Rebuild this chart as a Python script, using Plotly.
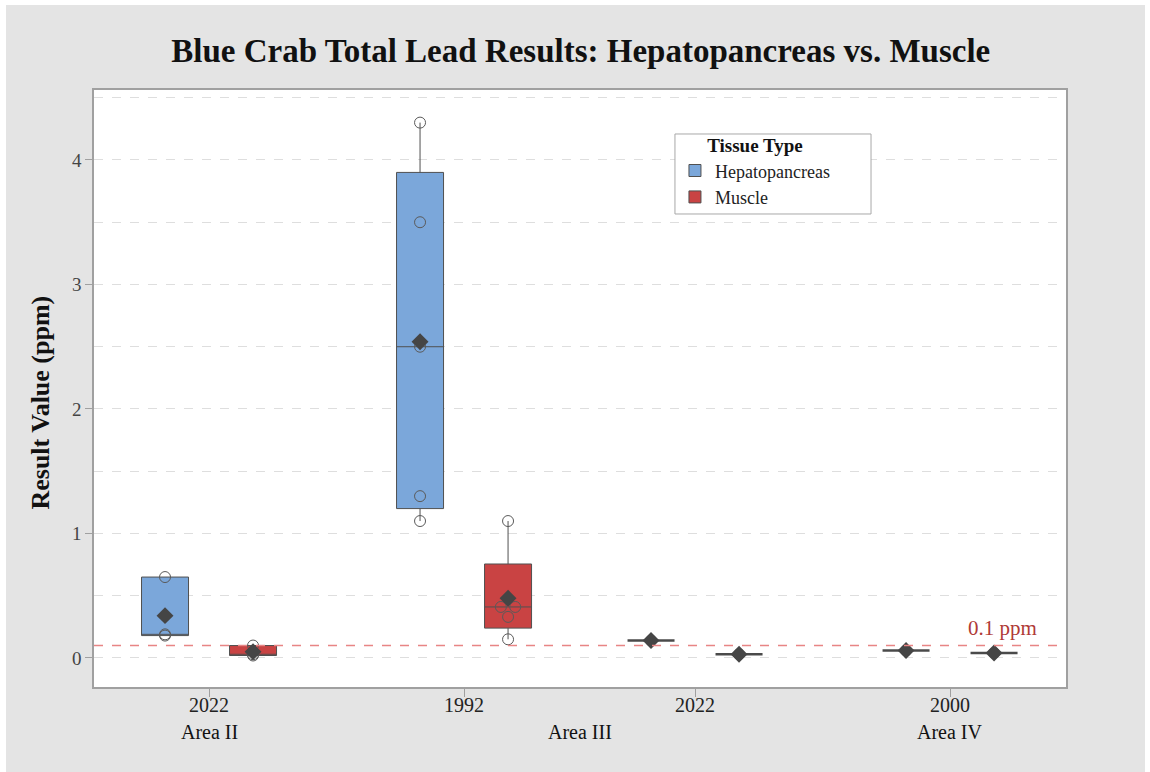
import numpy as np
import plotly.graph_objects as go

# ---- data -------------------------------------------------------------
areas = ["Area II", "Area III", "Area III", "Area IV"]
years = ["2022", "1992", "2022", "2000"]
tissues = ["Hepatopancreas", "Muscle"]

hepatopancreas_ppm = [
    [0.18, 0.19, 0.65],
    [1.1, 1.3, 2.5, 3.5, 4.3],
    [0.14],
    [0.06],
]
muscle_ppm = [
    [0.02, 0.03, 0.10],
    [0.15, 0.33, 0.41, 0.41, 1.1],
    [0.03],
    [0.04],
]
action_level_ppm = 0.1

# ---- layout helpers ---------------------------------------------------
AREA_GAP = 0.104      # extra spacing between different areas
OFFSET = 0.1905       # dodge between the two tissues inside a year
BOX_W = 0.2035
DUP_SHIFT = 0.031     # side-by-side shift for repeated values

area_order = list(dict.fromkeys(areas))
pos = [i + AREA_GAP * area_order.index(a) for i, a in enumerate(areas)]

colors = {"Hepatopancreas": "#7ba7da", "Muscle": "#c94343"}
series = {"Hepatopancreas": hepatopancreas_ppm, "Muscle": muscle_ppm}
offsets = {"Hepatopancreas": -OFFSET, "Muscle": OFFSET}

SERIF = "Liberation Serif"
fig = go.Figure()

for t in tissues:
    bx, by, px, py, mx, my = [], [], [], [], [], []
    flat_x, flat_y = [], []
    for p, vals in zip(pos, series[t]):
        c = p + offsets[t]
        bx += [c] * len(vals)
        by += vals
        if max(vals) == min(vals):
            # no spread: the box collapses to a single line
            flat_x += [c - BOX_W / 2, c + BOX_W / 2, None]
            flat_y += [vals[0], vals[0], None]
        # individual points, repeated values placed side by side
        for v in sorted(set(vals)):
            k = vals.count(v)
            shifts = [0.0] if k == 1 else list(np.linspace(-DUP_SHIFT, DUP_SHIFT, k))
            for s in shifts:
                px.append(c + s)
                py.append(v)
        mx.append(c)
        my.append(float(np.mean(vals)))
    fig.add_trace(go.Box(
        x=bx, y=by, name=t, width=BOX_W, boxpoints=False,
        quartilemethod="exclusive", fillcolor=colors[t],
        line=dict(color="#505050", width=1), whiskerwidth=0,
        legendgroup=t, showlegend=True,
    ))
    if flat_x:
        fig.add_trace(go.Scatter(
            x=flat_x, y=flat_y, mode="lines", legendgroup=t, showlegend=False,
            line=dict(color="#4a4a4a", width=2.5), hoverinfo="skip",
        ))
    fig.add_trace(go.Scatter(
        x=px, y=py, mode="markers", legendgroup=t, showlegend=False,
        marker=dict(symbol="circle-open", size=11, color="#5a5a5a",
                    line=dict(width=1, color="#5a5a5a")),
        hoverinfo="y",
    ))
    fig.add_trace(go.Scatter(
        x=mx, y=my, mode="markers", legendgroup=t, showlegend=False,
        marker=dict(symbol="diamond", size=13, color="#454545"),
        hoverinfo="y",
    ))

# reference level
fig.add_shape(type="line", xref="paper", x0=0, x1=1, yref="y",
              y0=action_level_ppm, y1=action_level_ppm,
              line=dict(color="#e88585", width=1.5, dash="dash"), layer="above")
fig.add_annotation(xref="paper", x=0.935, xanchor="center", yref="y",
                   y=action_level_ppm, yanchor="bottom", yshift=4,
                   showarrow=False, text=f"{action_level_ppm} ppm",
                   font=dict(family=SERIF, size=21, color="#b03a36"))

# two-level category labels: years under the ticks, areas beneath them
for p, yr in zip(pos, years):
    fig.add_annotation(xref="x", x=p, yref="paper", y=0, yanchor="middle",
                       yshift=-18, showarrow=False, text=yr,
                       font=dict(family=SERIF, size=20, color="#222"))
area_pos = {}
for a, p in zip(areas, pos):
    area_pos.setdefault(a, []).append(p)
for a, ps in area_pos.items():
    fig.add_annotation(xref="x", x=float(np.mean(ps)), yref="paper", y=0,
                       yanchor="middle", yshift=-45, showarrow=False, text=a,
                       font=dict(family=SERIF, size=20, color="#111"))

# y-axis title
fig.add_annotation(xref="paper", x=-0.0545, xanchor="center", yref="paper",
                   y=0.4765, yanchor="middle", textangle=-90, showarrow=False,
                   text="<b>Result Value (ppm)</b>",
                   font=dict(family=SERIF, size=26, color="#111"))

# legend frame (drawn as a panel behind the transparent legend)
fig.add_shape(type="rect", xref="paper", yref="paper",
              x0=0.5977, x1=0.7994, y0=0.7923, y1=0.9263,
              fillcolor="white", line=dict(color="#a8a8a8", width=1),
              layer="above")

# white frame around the grey canvas
for x0, x1, y0, y1 in [(-0.2, 1.2, 1.1424, 1.2), (-0.2, -0.0905, -0.3, 1.2),
                       (1.0813, 1.2, -0.3, 1.2)]:
    fig.add_shape(type="rect", xref="paper", yref="paper", x0=x0, x1=x1,
                  y0=y0, y1=y1, fillcolor="white", line_width=0, layer="above")

fig.update_layout(
    width=1150, height=772,
    margin=dict(l=94, r=84, t=90, b=85),
    paper_bgcolor="#e4e4e4", plot_bgcolor="white",
    boxmode="overlay",
    title=dict(text="<b>Blue Crab Total Lead Results: Hepatopancreas vs. Muscle</b>",
               x=0.505, xanchor="center", y=0.935, yanchor="middle",
               font=dict(family=SERIF, size=33, color="#111")),
    font=dict(family=SERIF),
    legend=dict(
        title=dict(text="<b>Tissue Type</b>", side="top center",
                   font=dict(family=SERIF, size=19, color="#111")),
        x=0.5977, xanchor="left", y=0.937, yanchor="top",
        bgcolor="rgba(0,0,0,0)", borderwidth=0,
        font=dict(family=SERIF, size=18, color="#222"),
        tracegroupgap=0,
    ),
    xaxis=dict(
        range=[-0.498, 3.71], tickmode="array", tickvals=pos,
        showticklabels=False,
        ticks="outside", ticklen=8, tickcolor="#a0a0a0",
        showgrid=False, zeroline=False, showline=True, linecolor="#a0a0a0",
        linewidth=1.5, mirror=True,
    ),
    yaxis=dict(
        range=[-0.233, 4.562], dtick=1, tick0=0,
        ticks="outside", ticklen=7, tickcolor="#a0a0a0",
        tickfont=dict(family=SERIF, size=19, color="#444"),
        showgrid=True, gridcolor="#dedede", griddash="dash", gridwidth=1,
        minor=dict(dtick=0.5, showgrid=True, gridcolor="#dedede",
                   griddash="dash", ticks=""),
        zeroline=False, showline=True, linecolor="#a0a0a0",
        linewidth=1.5, mirror=True,
    ),
)

fig.write_html("out.html")
